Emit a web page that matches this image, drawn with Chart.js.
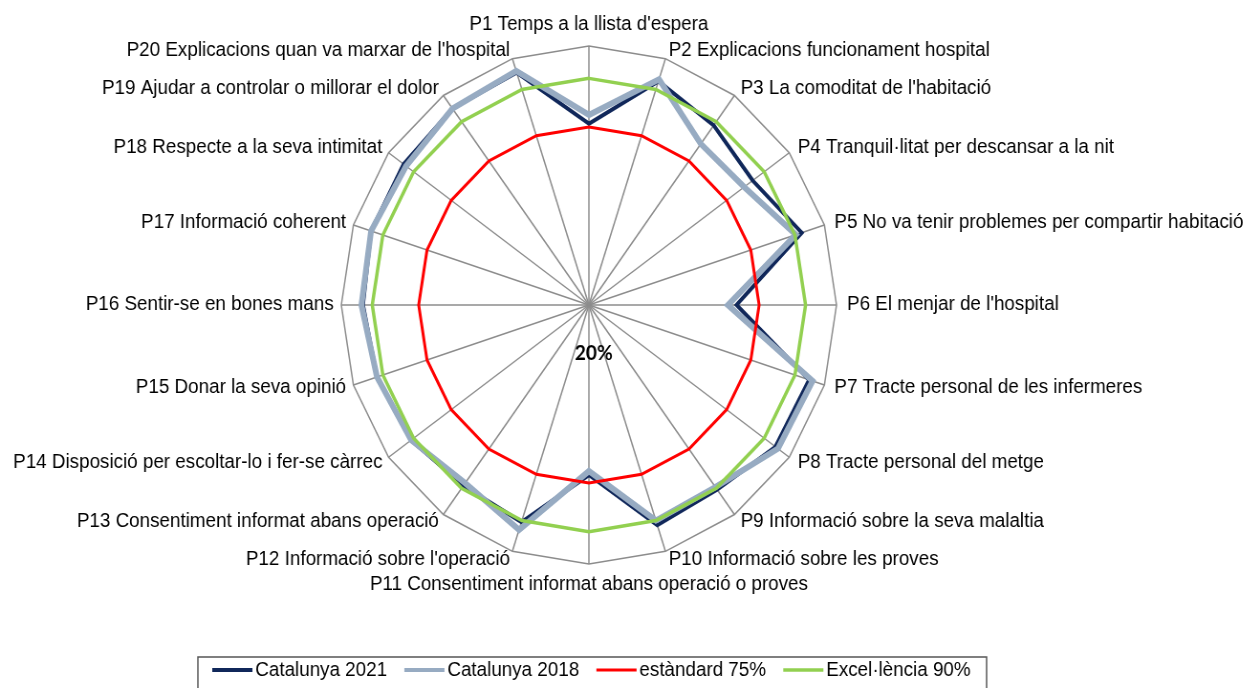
<!DOCTYPE html>
<html>
<head>
<meta charset="utf-8">
<script src="https://cdn.jsdelivr.net/npm/chart.js@4.4.1/dist/chart.umd.min.js"></script>
<style>
  html, body { margin: 0; padding: 0; background: #fff; overflow: hidden; }
  #wrap { width: 1246px; height: 688px; overflow: hidden; }
  #radar { transform: scaleX(0.956); transform-origin: 0 0; }
</style>
</head>
<body>
<div id="wrap"><canvas id="radar" width="1303" height="688"></canvas></div>
<script>
const categories = [
    "P1 Temps a la llista d'espera",
    "P2 Explicacions funcionament hospital",
    "P3 La comoditat de l'habitació",
    "P4 Tranquil·litat per descansar a la nit",
    "P5 No va tenir problemes per compartir habitació",
    "P6 El menjar de l'hospital",
    "P7 Tracte personal de les infermeres",
    "P8 Tracte personal del metge",
    "P9 Informació sobre la seva malaltia",
    "P10 Informació sobre les proves",
    "P11 Consentiment informat abans operació o proves",
    "P12 Informació sobre l'operació",
    "P13 Consentiment informat abans operació",
    "P14 Disposició per escoltar-lo i fer-se càrrec",
    "P15 Donar la seva opinió",
    "P16 Sentir-se en bones mans",
    "P17 Informació coherent",
    "P18 Respecte a la seva intimitat",
    "P19 Ajudar a controlar o millorar el dolor",
    "P20 Explicacions quan va marxar de l'hospital"
]

const cat2021 = [76.0, 92.7, 88.6, 85.4, 92.3, 67.7, 94.8, 94.5, 90.5, 91.5,
                 72.5, 90.5, 89.0, 91.0, 92.0, 93.0, 94.0, 94.0, 95.0, 95.5]
const cat2018 = [78.7, 93.3, 81.5, 82.0, 90.3, 64.9, 96.0, 95.5, 89.5, 90.0,
                 71.3, 93.0, 88.0, 91.0, 92.0, 93.5, 94.0, 93.0, 95.0, 96.0]
const estandard = categories.map(() => 75)
const excelencia = categories.map(() => 90)

const axisMin = 20
const axisMax = 100
const axisLabel = "20%"

const labelFont = '19.7px "Liberation Sans", Arial, sans-serif'

// point labels, the 20% axis label and the boxed legend
const extrasPlugin = {
    id: 'extras',
    afterDraw(chart) {
        const ctx = chart.ctx
        const scale = chart.scales.r
        ctx.save()
        ctx.fillStyle = '#000'
        ctx.font = labelFont
        ctx.textBaseline = 'middle'
        categories.forEach((text, i) => {
            const p = scale.getPointPosition(i, scale.drawingArea)
            const th = i * 2 * Math.PI / categories.length
            const sn = Math.sin(th), cs = Math.cos(th)
            let x = p.x, y = p.y
            if (Math.abs(sn) < 0.01) {
                ctx.textAlign = 'center'
                y -= cs * 21
            } else {
                ctx.textAlign = sn > 0 ? 'left' : 'right'
                x += sn * (sn > 0 ? 11 : 8)
                y -= cs * 9
            }
            ctx.fillText(text, x, y)
        })

        ctx.font = 'bold 20px Lato, sans-serif'
        ctx.textAlign = 'center'
        ctx.fillText(axisLabel, scale.xCenter + 5, scale.yCenter + 49)

        // legend
        const boxLeft = 207, boxRight = 1032, boxTop = 657
        ctx.strokeStyle = '#555'
        ctx.lineWidth = 1.5
        ctx.strokeRect(boxLeft, boxTop, boxRight - boxLeft, 40)
        ctx.font = labelFont
        ctx.textAlign = 'left'
        let x = 222
        const ly = 670
        chart.data.datasets.forEach(ds => {
            ctx.strokeStyle = ds.borderColor
            ctx.lineWidth = Math.min(ds.borderWidth, 4)
            ctx.beginPath()
            ctx.moveTo(x, ly)
            ctx.lineTo(x + 42, ly)
            ctx.stroke()
            x += 45
            ctx.fillText(ds.label, x, ly + 1)
            x += ctx.measureText(ds.label).width + 18
        })
        ctx.restore()
    }
}

new Chart("radar", {
    type: "radar",
    data: {
        labels: categories,
        datasets: [
            { label: "Catalunya 2021", data: cat2021, borderColor: '#10275a', borderWidth: 4, order: 4 },
            { label: "Catalunya 2018", data: cat2018, borderColor: '#97abc2', borderWidth: 6, order: 3 },
            { label: "estàndard 75%", data: estandard, borderColor: '#ff0000', borderWidth: 3, order: 2 },
            { label: "Excel·lència 90%", data: excelencia, borderColor: '#92d050', borderWidth: 3.5, order: 1 }
        ]
    },
    options: {
        responsive: false,
        animation: false,
        devicePixelRatio: 1,
        layout: { padding: { left: 357, right: 428, top: 46, bottom: 123 } },
        elements: {
            point: { radius: 0, hoverRadius: 0 },
            line: { fill: false, tension: 0, borderJoinStyle: 'miter' }
        },
        plugins: {
            legend: { display: false },
            tooltip: { enabled: false }
        },
        scales: {
            r: {
                min: axisMin,
                max: axisMax,
                ticks: { display: false, stepSize: 80 },
                pointLabels: { display: false },
                grid: { color: '#8c8c8c', lineWidth: 1.5 },
                angleLines: { color: '#8c8c8c', lineWidth: 1.5 }
            }
        }
    },
    plugins: [extrasPlugin]
});
</script>
</body>
</html>
